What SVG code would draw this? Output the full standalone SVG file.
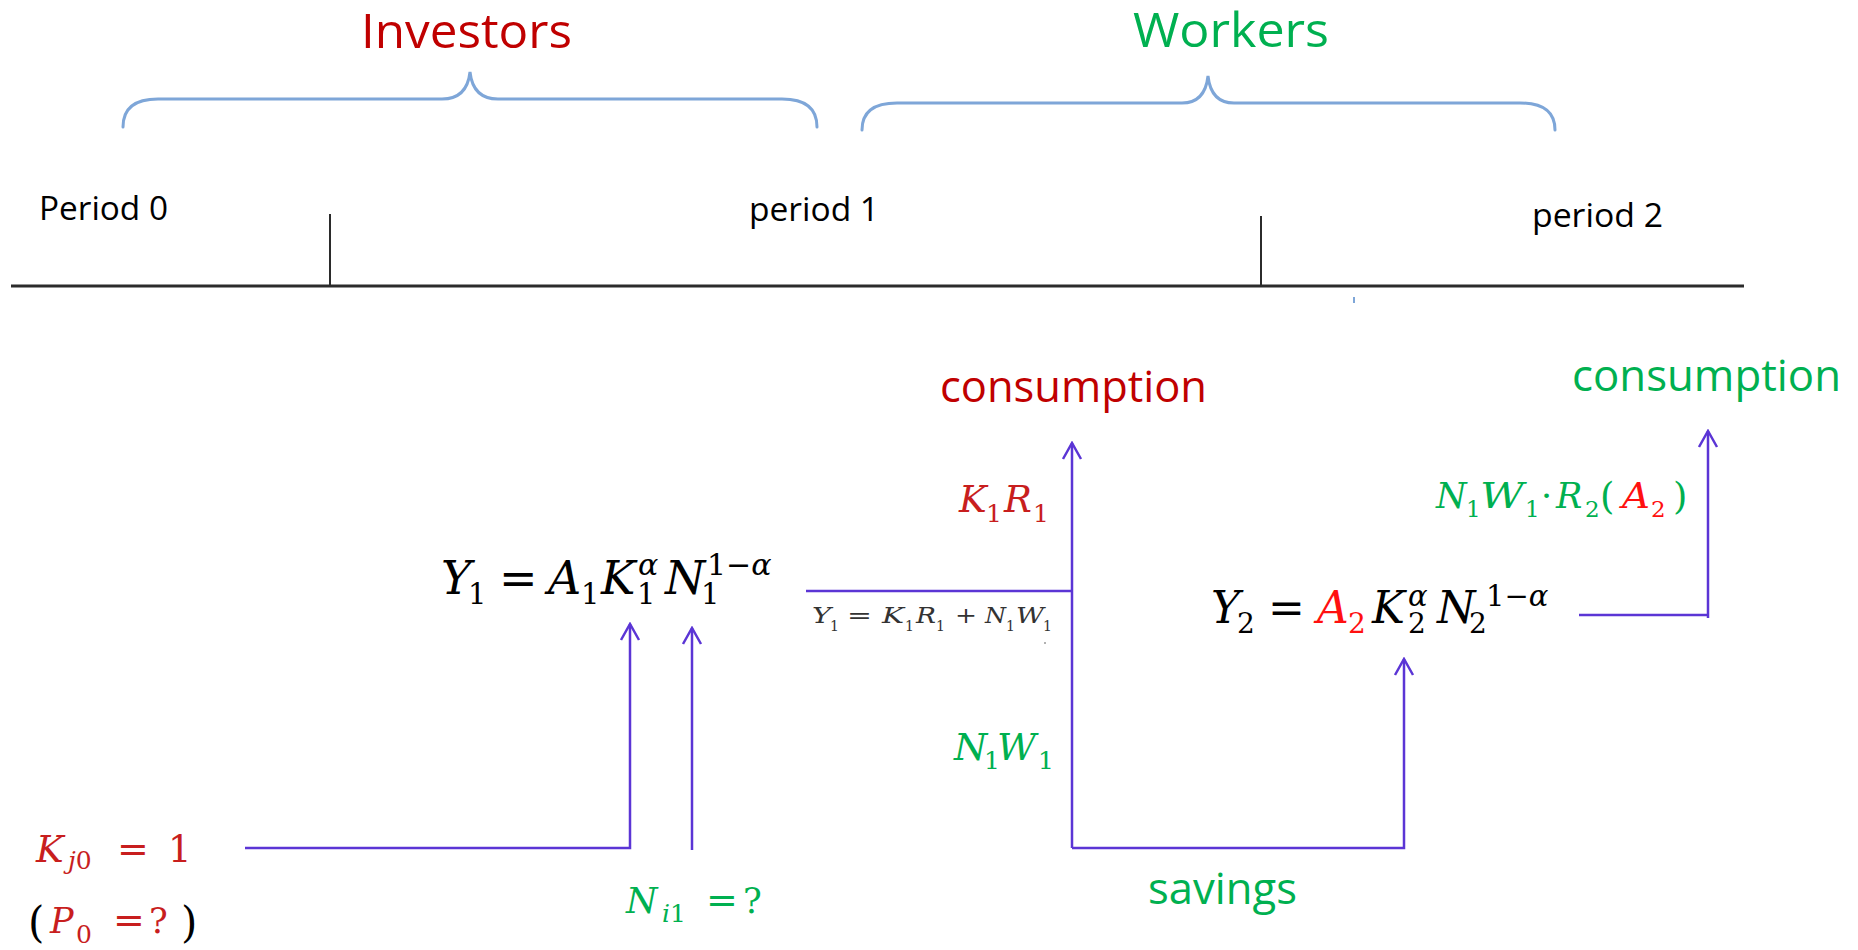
<svg xmlns="http://www.w3.org/2000/svg" width="1858" height="950" viewBox="0 0 1858 950">
<defs>
<style>
.sans{font-family:"Open Sans","Liberation Sans",sans-serif;}
.mi{font-family:"DejaVu Serif","Liberation Serif",serif;font-style:italic;}
.mu{font-family:"DejaVu Serif","Liberation Serif",serif;font-style:normal;}
.conn{fill:none;stroke:#5B35D5;stroke-width:2.5;stroke-linejoin:miter;}
.brace{fill:none;stroke:#7EA6D8;stroke-width:3;stroke-linecap:round;}
.axis{stroke:#2b2b2b;fill:none;}
.red{fill:#C00000;}
.mred{fill:#C81E1E;}
.bred{fill:#FF1010;}
.green{fill:#00B050;}
.blk{fill:#000;}
.gray{fill:#333;}
</style>
<marker id="arr" markerUnits="userSpaceOnUse" viewBox="-18 -11 20 22" markerWidth="20" markerHeight="22" refX="0" refY="0" orient="auto">
<path d="M-16,-9 L0,0 L-16,9" fill="none" stroke="#5B35D5" stroke-width="2.5"/>
</marker>
</defs>
<rect width="1858" height="950" fill="#fff"/>

<g id="investors">
<text class="sans red" x="361" y="48" font-size="48" textLength="211" lengthAdjust="spacingAndGlyphs">Investors</text>
<path class="brace" d="M123,127 C123,108 135,99 158,99 L442,99 C458,99 468,90 470,72 C472,90 482,99 498,99 L782,99 C805,99 817,108 817,127"/>
</g>

<g id="workers">
<text class="sans green" x="1133" y="47" font-size="48" textLength="196" lengthAdjust="spacingAndGlyphs">Workers</text>
<path class="brace" d="M862,130 C862,112 874,103 897,103 L1182,103 C1198,103 1206,94 1208,76 C1210,94 1218,103 1234,103 L1520,103 C1543,103 1555,112 1555,130"/>
</g>

<g id="timeline">
<line class="axis" x1="11" y1="286" x2="1744" y2="286" stroke-width="3"/>
<line class="axis" x1="330" y1="214" x2="330" y2="286" stroke-width="2"/>
<line class="axis" x1="1261" y1="216" x2="1261" y2="286" stroke-width="2"/>
<rect x="1353" y="297" width="2" height="6" fill="#7EA6D8"/>
<text class="sans blk" x="39" y="220" font-size="33" textLength="129" lengthAdjust="spacingAndGlyphs">Period 0</text>
<text class="sans blk" x="749" y="221" font-size="33" textLength="130" lengthAdjust="spacingAndGlyphs">period 1</text>
<text class="sans blk" x="1532" y="227" font-size="33" textLength="131" lengthAdjust="spacingAndGlyphs">period 2</text>
</g>

<g id="eq-y1" class="blk">
<text class="mi" x="441" y="594" font-size="46">Y</text>
<text class="mu" x="468" y="604" font-size="29">1</text>
<text class="mu" x="499" y="594" font-size="46">=</text>
<text class="mi" x="548" y="594" font-size="46">A</text>
<text class="mu" x="581" y="604" font-size="29">1</text>
<text class="mi" x="601" y="594" font-size="46">K</text>
<text class="mi" x="638" y="575" font-size="30">α</text>
<text class="mu" x="637" y="604" font-size="29">1</text>
<text class="mi" x="665" y="594" font-size="46">N</text>
<text class="mu" x="701" y="604" font-size="29">1</text>
<text class="mu" x="707" y="575" font-size="30">1−<tspan font-style="italic">α</tspan></text>
</g>

<g id="eq-y1-split" class="gray">
<text class="mi" x="812" y="623" font-size="22" textLength="19" lengthAdjust="spacingAndGlyphs">Y</text>
<text class="mu" x="830" y="631" font-size="14">1</text>
<text class="mu" x="847" y="623" font-size="22" textLength="25" lengthAdjust="spacingAndGlyphs">=</text>
<text class="mi" x="882" y="623" font-size="22" textLength="22" lengthAdjust="spacingAndGlyphs">K</text>
<text class="mu" x="905" y="631" font-size="14">1</text>
<text class="mi" x="916" y="623" font-size="22" textLength="20" lengthAdjust="spacingAndGlyphs">R</text>
<text class="mu" x="936" y="631" font-size="14">1</text>
<text class="mu" x="955" y="623" font-size="22" textLength="22" lengthAdjust="spacingAndGlyphs">+</text>
<text class="mi" x="985" y="623" font-size="22" textLength="21" lengthAdjust="spacingAndGlyphs">N</text>
<text class="mu" x="1006" y="631" font-size="14">1</text>
<text class="mi" x="1016" y="623" font-size="22" textLength="28" lengthAdjust="spacingAndGlyphs">W</text>
<text class="mu" x="1043" y="631" font-size="14">1</text>
<circle cx="1045" cy="643" r="1" fill="#999"/>
</g>

<g id="consumption-investors">
<text class="sans red" x="940" y="402" font-size="43.5" textLength="267" lengthAdjust="spacingAndGlyphs">consumption</text>
</g>

<g id="label-k1r1" class="mred">
<text class="mi" x="959" y="512" font-size="37">K</text>
<text class="mu" x="986" y="522" font-size="25">1</text>
<text class="mi" x="1004" y="512" font-size="37">R</text>
<text class="mu" x="1033" y="522" font-size="25">1</text>
</g>

<g id="label-n1w1" class="green">
<text class="mi" x="954" y="760" font-size="38">N</text>
<text class="mu" x="984" y="769" font-size="25">1</text>
<text class="mi" x="997" y="760" font-size="38">W</text>
<text class="mu" x="1038" y="769" font-size="25">1</text>
</g>

<g id="savings">
<text class="sans green" x="1148" y="904" font-size="43.5" textLength="149" lengthAdjust="spacingAndGlyphs">savings</text>
</g>

<g id="eq-y2" class="blk">
<text class="mi" x="1211" y="623" font-size="44">Y</text>
<text class="mu" x="1237" y="633" font-size="28">2</text>
<text class="mu" x="1268" y="623" font-size="44">=</text>
<text class="mi bred" x="1317" y="623" font-size="44">A</text>
<text class="mu bred" x="1348" y="633" font-size="28">2</text>
<text class="mi" x="1372" y="623" font-size="44">K</text>
<text class="mi" x="1408" y="606" font-size="29">α</text>
<text class="mu" x="1408" y="633" font-size="28">2</text>
<text class="mi" x="1437" y="623" font-size="44">N</text>
<text class="mu" x="1469" y="633" font-size="28">2</text>
<text class="mu" x="1486" y="606" font-size="29">1−<tspan font-style="italic">α</tspan></text>
</g>

<g id="label-return" class="green">
<text class="mi" x="1436" y="508" font-size="35">N</text>
<text class="mu" x="1466" y="517" font-size="23">1</text>
<text class="mi" x="1480" y="508" font-size="35" textLength="44" lengthAdjust="spacingAndGlyphs">W</text>
<text class="mu" x="1525" y="517" font-size="23">1</text>
<text class="mu" x="1541" y="508" font-size="35">·</text>
<text class="mi" x="1556" y="508" font-size="35">R</text>
<text class="mu" x="1585" y="517" font-size="23">2</text>
<text class="mu" x="1600" y="509" font-size="37">(</text>
<text class="mi bred" x="1622" y="508" font-size="35" textLength="28" lengthAdjust="spacingAndGlyphs">A</text>
<text class="mu bred" x="1651" y="517" font-size="23">2</text>
<text class="mu" x="1673" y="509" font-size="37">)</text>
</g>

<g id="consumption-workers">
<text class="sans green" x="1572" y="391" font-size="43.5" textLength="269" lengthAdjust="spacingAndGlyphs">consumption</text>
</g>

<g id="capital" class="mred">
<text class="mi" x="36" y="862" font-size="37">K</text>
<text class="mi" x="68" y="869" font-size="25">j<tspan class="mu" font-style="normal">0</tspan></text>
<text class="mu" x="117" y="862" font-size="38">=</text>
<text class="mu" x="168" y="862" font-size="37">1</text>
<text class="mu blk" x="28" y="937" font-size="42">(</text>
<text class="mi" x="50" y="933" font-size="35">P</text>
<text class="mu" x="76" y="943" font-size="25">0</text>
<text class="mu" x="113" y="933" font-size="38">=</text>
<text class="mu" x="149" y="933" font-size="35">?</text>
<text class="mu blk" x="181" y="937" font-size="42">)</text>
</g>

<g id="labor" class="green">
<text class="mi" x="626" y="913" font-size="36">N</text>
<text class="mi" x="662" y="922" font-size="25">i<tspan class="mu" font-style="normal">1</tspan></text>
<text class="mu" x="706" y="913" font-size="38">=</text>
<text class="mu" x="743" y="913" font-size="35">?</text>
</g>

<g id="connectors">
<path class="conn" d="M245,848 L630,848 L630,624" marker-end="url(#arr)"/>
<path class="conn" d="M692,850 L692,628" marker-end="url(#arr)"/>
<path class="conn" d="M806,591 L1072,591"/>
<path class="conn" d="M1072,848 L1072,443" marker-end="url(#arr)"/>
<path class="conn" d="M1072,848 L1404,848 L1404,659" marker-end="url(#arr)"/>
<path class="conn" d="M1579,615 L1708,615"/>
<path class="conn" d="M1708,618 L1708,431" marker-end="url(#arr)"/>
</g>
</svg>
